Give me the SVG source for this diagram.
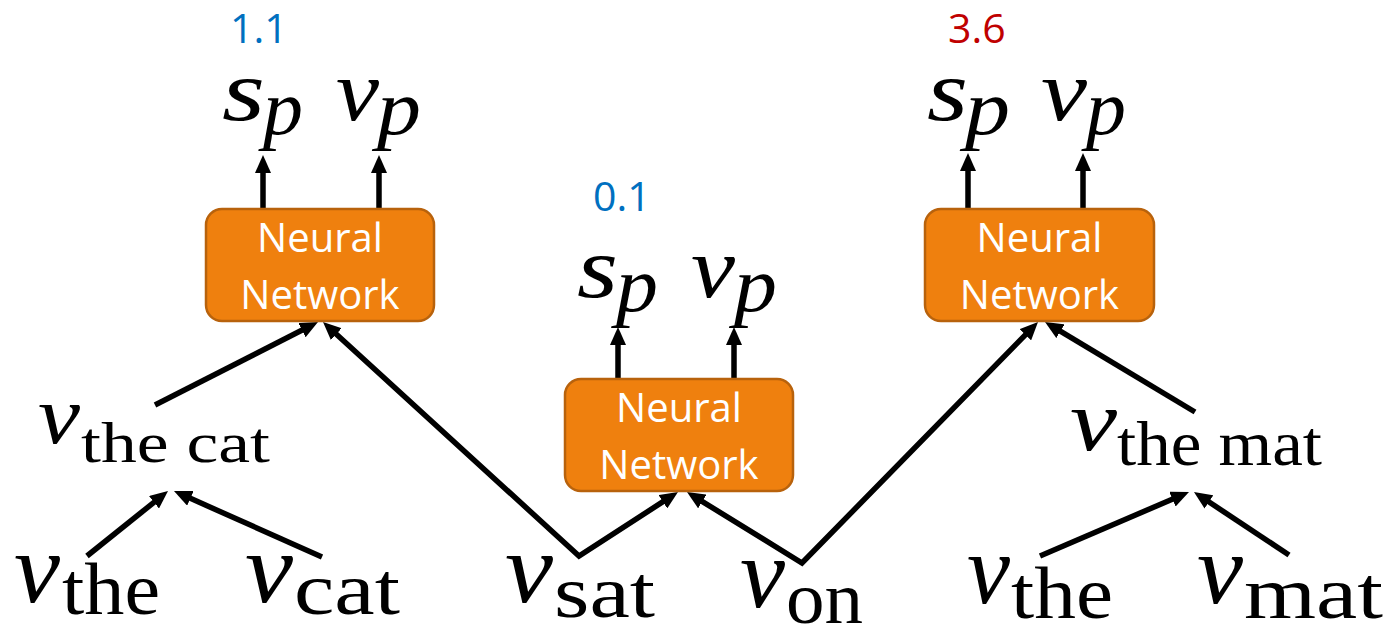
<svg xmlns="http://www.w3.org/2000/svg" width="1393" height="628" viewBox="0 0 1393 628">
  <style>
    .box { fill: #EF800E; stroke: #B8620C; stroke-width: 2.5; }
    .boxtxt { font-family: "Open Sans", "Liberation Sans", sans-serif; font-size: 40px; fill: #ffffff; text-anchor: middle; }
    .mi { font-family: "Liberation Serif", "DejaVu Serif", serif; font-style: italic; fill: #000; }
    .rm { font-family: "Liberation Serif", "DejaVu Serif", serif; fill: #000; }
    .score { font-family: "Open Sans", "Liberation Sans", sans-serif; font-size: 41px; }
    .edge { fill: none; stroke: #000; stroke-width: 5.5; stroke-linejoin: miter; }
  </style>
  <defs>
    <marker id="arrow" markerUnits="userSpaceOnUse" viewBox="0 0 18 16" markerWidth="18" markerHeight="16" refX="8" refY="8" orient="auto-start-reverse">
      <path d="M0,0 L18,8 L0,16 z" fill="#000"/>
    </marker>
  </defs>

  <rect width="1393" height="628" fill="#ffffff"/>

  <!-- connectors -->
  <g id="connectors">
    <line class="edge" x1="87" y1="556" x2="160.2" y2="497.3" marker-end="url(#arrow)"/>
    <line class="edge" x1="322" y1="557" x2="183.1" y2="495.1" marker-end="url(#arrow)"/>
    <line class="edge" x1="155" y1="405" x2="309.1" y2="326.5" marker-end="url(#arrow)"/>
    <path class="edge" d="M330.4,328.7 L579,556 L669.6,497.4" marker-start="url(#arrow)" marker-end="url(#arrow)"/>
    <path class="edge" d="M695.5,497.3 L802,563 L1031,329.1" marker-start="url(#arrow)" marker-end="url(#arrow)"/>
    <line class="edge" x1="1195" y1="412" x2="1053.6" y2="327.1" marker-end="url(#arrow)"/>
    <line class="edge" x1="1040" y1="556" x2="1179.8" y2="496" marker-end="url(#arrow)"/>
    <line class="edge" x1="1289" y1="555" x2="1202.3" y2="497.5" marker-end="url(#arrow)"/>
    <!-- outputs of each network -->
    <line class="edge" x1="263" y1="209" x2="263" y2="165" marker-end="url(#arrow)"/>
    <line class="edge" x1="379" y1="209" x2="379" y2="165" marker-end="url(#arrow)"/>
    <line class="edge" x1="618" y1="379" x2="618" y2="337" marker-end="url(#arrow)"/>
    <line class="edge" x1="734" y1="379" x2="734" y2="337" marker-end="url(#arrow)"/>
    <line class="edge" x1="968" y1="209" x2="968" y2="163" marker-end="url(#arrow)"/>
    <line class="edge" x1="1083" y1="209" x2="1083" y2="163" marker-end="url(#arrow)"/>
  </g>

  <!-- neural network nodes -->
  <g id="nn-left">
    <rect class="box" x="206" y="209" width="228" height="112" rx="16"/>
    <text class="boxtxt" x="320" y="252">Neural</text>
    <text class="boxtxt" x="320" y="309">Network</text>
  </g>
  <g id="nn-middle">
    <rect class="box" x="565" y="379" width="228" height="112" rx="16"/>
    <text class="boxtxt" x="679" y="422">Neural</text>
    <text class="boxtxt" x="679" y="479">Network</text>
  </g>
  <g id="nn-right">
    <rect class="box" x="925" y="209" width="229" height="112" rx="16"/>
    <text class="boxtxt" x="1039.5" y="252">Neural</text>
    <text class="boxtxt" x="1039.5" y="309">Network</text>
  </g>

  <!-- outputs: score and vector -->
  <g id="out-left">
    <text class="score" x="230" y="43" fill="#0070C0">1.1</text>
    <text class="mi" x="222" y="120" font-size="86" textLength="43" lengthAdjust="spacingAndGlyphs">s</text>
    <text class="mi" x="263" y="134" font-size="78" textLength="40" lengthAdjust="spacingAndGlyphs">p</text>
    <text class="mi" x="336" y="120" font-size="86" textLength="43" lengthAdjust="spacingAndGlyphs">v</text>
    <text class="mi" x="377" y="134" font-size="78" textLength="44" lengthAdjust="spacingAndGlyphs">p</text>
  </g>
  <g id="out-middle">
    <text class="score" x="593" y="211" fill="#0070C0">0.1</text>
    <text class="mi" x="577" y="297" font-size="86" textLength="41" lengthAdjust="spacingAndGlyphs">s</text>
    <text class="mi" x="616" y="311" font-size="78" textLength="42" lengthAdjust="spacingAndGlyphs">p</text>
    <text class="mi" x="691" y="297" font-size="86" textLength="44" lengthAdjust="spacingAndGlyphs">v</text>
    <text class="mi" x="734" y="311" font-size="78" textLength="43" lengthAdjust="spacingAndGlyphs">p</text>
  </g>
  <g id="out-right">
    <text class="score" x="948" y="43" fill="#C00000">3.6</text>
    <text class="mi" x="927" y="120" font-size="86" textLength="41" lengthAdjust="spacingAndGlyphs">s</text>
    <text class="mi" x="965" y="134" font-size="78" textLength="45" lengthAdjust="spacingAndGlyphs">p</text>
    <text class="mi" x="1041" y="120" font-size="86" textLength="46" lengthAdjust="spacingAndGlyphs">v</text>
    <text class="mi" x="1086" y="134" font-size="78" textLength="40" lengthAdjust="spacingAndGlyphs">p</text>
  </g>

  <!-- phrase vectors -->
  <g id="v-the-cat">
    <text class="mi" x="38" y="443" font-size="82" textLength="42" lengthAdjust="spacingAndGlyphs">v</text>
    <text class="rm" x="81" y="462" font-size="56" textLength="189" lengthAdjust="spacingAndGlyphs">the cat</text>
  </g>
  <g id="v-the-mat">
    <text class="mi" x="1070" y="450" font-size="86" textLength="47" lengthAdjust="spacingAndGlyphs">v</text>
    <text class="rm" x="1117" y="465" font-size="64" textLength="205" lengthAdjust="spacingAndGlyphs">the mat</text>
  </g>

  <!-- word vectors -->
  <g id="v-the-1">
    <text class="mi" x="14" y="602" font-size="100" textLength="46" lengthAdjust="spacingAndGlyphs">v</text>
    <text class="rm" x="62" y="614" font-size="74" textLength="98" lengthAdjust="spacingAndGlyphs">the</text>
  </g>
  <g id="v-cat">
    <text class="mi" x="245" y="602" font-size="100" textLength="48" lengthAdjust="spacingAndGlyphs">v</text>
    <text class="rm" x="294" y="614" font-size="74" textLength="106" lengthAdjust="spacingAndGlyphs">cat</text>
  </g>
  <g id="v-sat">
    <text class="mi" x="505" y="602" font-size="100" textLength="48" lengthAdjust="spacingAndGlyphs">v</text>
    <text class="rm" x="554" y="617" font-size="74" textLength="101" lengthAdjust="spacingAndGlyphs">sat</text>
  </g>
  <g id="v-on">
    <text class="mi" x="740" y="607" font-size="100" textLength="45" lengthAdjust="spacingAndGlyphs">v</text>
    <text class="rm" x="786" y="623" font-size="74" textLength="77" lengthAdjust="spacingAndGlyphs">on</text>
  </g>
  <g id="v-the-2">
    <text class="mi" x="967" y="603" font-size="100" textLength="43" lengthAdjust="spacingAndGlyphs">v</text>
    <text class="rm" x="1011" y="618" font-size="74" textLength="102" lengthAdjust="spacingAndGlyphs">the</text>
  </g>
  <g id="v-mat">
    <text class="mi" x="1197" y="603" font-size="100" textLength="46" lengthAdjust="spacingAndGlyphs">v</text>
    <text class="rm" x="1244" y="618" font-size="74" textLength="139" lengthAdjust="spacingAndGlyphs">mat</text>
  </g>
</svg>
